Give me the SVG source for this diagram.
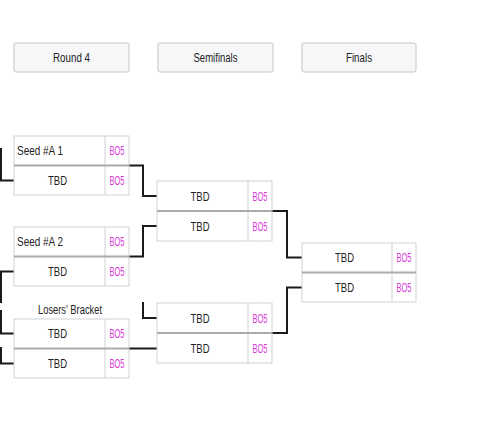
<svg xmlns="http://www.w3.org/2000/svg" width="500" height="440" viewBox="0 0 500 440">
<style>
text{font-family:"Liberation Sans",Arial,sans-serif;font-size:12.5px;fill:#222}
.hdr{fill:#f6f7f8;stroke:#c2c4c6;stroke-width:1}
.box{fill:#fff;stroke:#cfd1d3;stroke-width:1}
.sep{stroke:#a9abad;stroke-width:2}
.col{stroke:#cfd1d3;stroke-width:1}
.bo{fill:#d83bd8}
.c{fill:none;stroke:#1a1a1a;stroke-width:2}
</style>
<rect width="500" height="440" fill="#fff"/>
<g id="header-round4"><rect class="hdr" x="14" y="43" width="115" height="29" rx="2"/><text x="71.5" y="62" text-anchor="middle" textLength="37" lengthAdjust="spacingAndGlyphs">Round 4</text></g>
<g id="header-semifinals"><rect class="hdr" x="158" y="43" width="115" height="29" rx="2"/><text x="215.5" y="62" text-anchor="middle" textLength="44" lengthAdjust="spacingAndGlyphs">Semifinals</text></g>
<g id="header-finals"><rect class="hdr" x="302" y="43" width="114" height="29" rx="2"/><text x="359" y="62" text-anchor="middle" textLength="26" lengthAdjust="spacingAndGlyphs">Finals</text></g>

<g id="connectors">
<path class="c" d="M1,148 V180.5 H14"/>
<path class="c" d="M14,271.5 H1 V303"/>
<path class="c" d="M1,310 V333.5 H14"/>
<path class="c" d="M1,347 V363.5 H14"/>
<path class="c" d="M129,165.5 H143 V196 H157"/>
<path class="c" d="M129,256.5 H143 V226 H157"/>
<path class="c" d="M143,302 V318 H157"/>
<path class="c" d="M129,348.5 H157"/>
<path class="c" d="M272,211 H287 V257.5 H302"/>
<path class="c" d="M272,333 H287 V287.5 H302"/>
</g>

<g id="match-r4-1">
<rect class="box" x="14" y="136" width="115" height="59"/>
<line class="col" x1="105" y1="136" x2="105" y2="195"/>
<line class="sep" x1="14" y1="165.5" x2="129" y2="165.5"/>
<text x="17" y="155" textLength="46" lengthAdjust="spacingAndGlyphs">Seed #A 1</text>
<text class="bo" x="117" y="155" text-anchor="middle" textLength="15" lengthAdjust="spacingAndGlyphs">BO5</text>
<text x="57.5" y="185" text-anchor="middle" textLength="19" lengthAdjust="spacingAndGlyphs">TBD</text>
<text class="bo" x="117" y="185" text-anchor="middle" textLength="15" lengthAdjust="spacingAndGlyphs">BO5</text>
</g>

<g id="match-r4-2">
<rect class="box" x="14" y="227" width="115" height="59"/>
<line class="col" x1="105" y1="227" x2="105" y2="286"/>
<line class="sep" x1="14" y1="256.5" x2="129" y2="256.5"/>
<text x="17" y="246" textLength="46" lengthAdjust="spacingAndGlyphs">Seed #A 2</text>
<text class="bo" x="117" y="246" text-anchor="middle" textLength="15" lengthAdjust="spacingAndGlyphs">BO5</text>
<text x="57.5" y="276" text-anchor="middle" textLength="19" lengthAdjust="spacingAndGlyphs">TBD</text>
<text class="bo" x="117" y="276" text-anchor="middle" textLength="15" lengthAdjust="spacingAndGlyphs">BO5</text>
</g>

<g id="match-losers">
<text x="70" y="314" text-anchor="middle" textLength="64" lengthAdjust="spacingAndGlyphs">Losers' Bracket</text>
<rect class="box" x="14" y="319" width="115" height="59"/>
<line class="col" x1="105" y1="319" x2="105" y2="378"/>
<line class="sep" x1="14" y1="348.5" x2="129" y2="348.5"/>
<text x="57.5" y="338" text-anchor="middle" textLength="19" lengthAdjust="spacingAndGlyphs">TBD</text>
<text class="bo" x="117" y="338" text-anchor="middle" textLength="15" lengthAdjust="spacingAndGlyphs">BO5</text>
<text x="57.5" y="368" text-anchor="middle" textLength="19" lengthAdjust="spacingAndGlyphs">TBD</text>
<text class="bo" x="117" y="368" text-anchor="middle" textLength="15" lengthAdjust="spacingAndGlyphs">BO5</text>
</g>

<g id="match-semi-1">
<rect class="box" x="157" y="181" width="115" height="60"/>
<line class="col" x1="248" y1="181" x2="248" y2="241"/>
<line class="sep" x1="157" y1="211" x2="272" y2="211"/>
<text x="200" y="200.5" text-anchor="middle" textLength="19" lengthAdjust="spacingAndGlyphs">TBD</text>
<text class="bo" x="260" y="200.5" text-anchor="middle" textLength="15" lengthAdjust="spacingAndGlyphs">BO5</text>
<text x="200" y="230.5" text-anchor="middle" textLength="19" lengthAdjust="spacingAndGlyphs">TBD</text>
<text class="bo" x="260" y="230.5" text-anchor="middle" textLength="15" lengthAdjust="spacingAndGlyphs">BO5</text>
</g>

<g id="match-semi-2">
<rect class="box" x="157" y="303" width="115" height="60"/>
<line class="col" x1="248" y1="303" x2="248" y2="363"/>
<line class="sep" x1="157" y1="333" x2="272" y2="333"/>
<text x="200" y="322.5" text-anchor="middle" textLength="19" lengthAdjust="spacingAndGlyphs">TBD</text>
<text class="bo" x="260" y="322.5" text-anchor="middle" textLength="15" lengthAdjust="spacingAndGlyphs">BO5</text>
<text x="200" y="352.5" text-anchor="middle" textLength="19" lengthAdjust="spacingAndGlyphs">TBD</text>
<text class="bo" x="260" y="352.5" text-anchor="middle" textLength="15" lengthAdjust="spacingAndGlyphs">BO5</text>
</g>

<g id="match-final">
<rect class="box" x="302" y="243" width="114" height="59"/>
<line class="col" x1="392" y1="243" x2="392" y2="302"/>
<line class="sep" x1="302" y1="272.5" x2="416" y2="272.5"/>
<text x="344.5" y="262" text-anchor="middle" textLength="19" lengthAdjust="spacingAndGlyphs">TBD</text>
<text class="bo" x="404" y="262" text-anchor="middle" textLength="15" lengthAdjust="spacingAndGlyphs">BO5</text>
<text x="344.5" y="292" text-anchor="middle" textLength="19" lengthAdjust="spacingAndGlyphs">TBD</text>
<text class="bo" x="404" y="292" text-anchor="middle" textLength="15" lengthAdjust="spacingAndGlyphs">BO5</text>
</g>
</svg>
